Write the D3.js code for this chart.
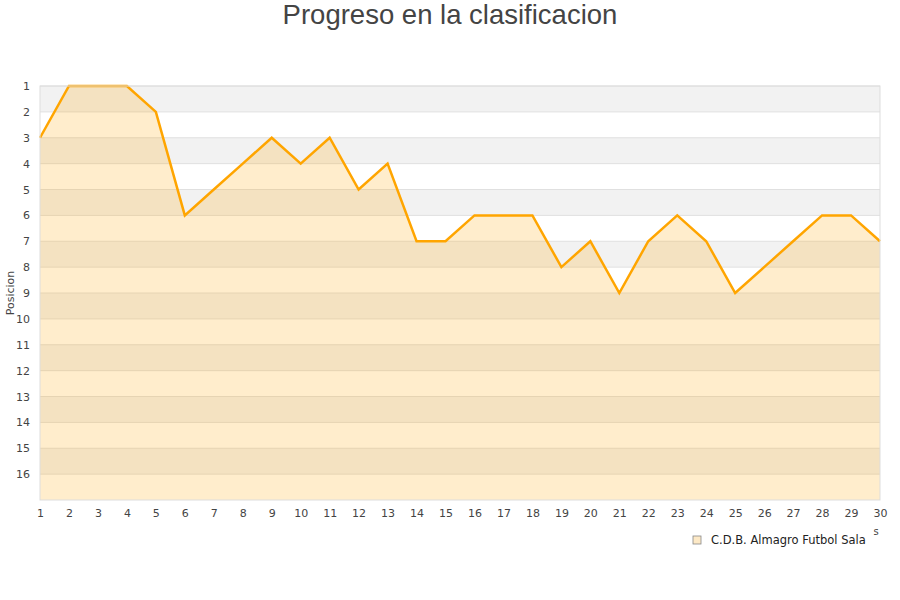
<!DOCTYPE html>
<html>
<head>
<meta charset="utf-8">
<script src="https://cdn.jsdelivr.net/npm/d3@7"></script>
<style>
  body { margin: 0; background: #fff; }
  svg { display: block; }
  .tick text { font-family: "DejaVu Sans", sans-serif; font-size: 11px; fill: #444; }
</style>
</head>
<body>
<div id="chart"></div>
<script>
// ── Data ──────────────────────────────────────────────────────────────────────
const jornadas  = d3.range(1, 31);
const posiciones = [3, 1, 1, 1, 2, 6, 5, 4, 3, 4, 3, 5, 4, 7, 7, 6, 6, 6, 8, 7, 9, 7, 6, 7, 9, 8, 7, 6, 6, 7];
const yTicks    = d3.range(1, 17);
const teamName  = "C.D.B. Almagro Futbol Sala";

// ── Layout ────────────────────────────────────────────────────────────────────
const W = 900, H = 600;
const margin = { top: 86, right: 20, bottom: 100, left: 40 };
const width  = W - margin.left - margin.right;
const height = H - margin.top - margin.bottom;

const svg = d3.select("#chart").append("svg").attr("width", W).attr("height", H);

svg.append("text")
  .attr("x", W / 2).attr("y", 24)
  .attr("text-anchor", "middle")
  .style("font-family", "Liberation Sans, Arial, sans-serif")
  .style("font-size", "27.5px")
  .style("fill", "#444")
  .text("Progreso en la clasificacion");

const g = svg.append("g").attr("transform", `translate(${margin.left},${margin.top})`);

const x = d3.scaleLinear().domain([1, 30]).range([0, width]);
const y = d3.scaleLinear().domain([1, 17]).range([0, height]);

// alternating bands
g.selectAll(".band").data(yTicks.filter(d => d % 2 === 1)).enter().append("rect")
  .attr("class", "band")
  .attr("x", 0).attr("width", width)
  .attr("y", d => y(d)).attr("height", d => y(d + 1) - y(d))
  .style("fill", "#f2f2f2");

// grid lines
g.selectAll(".grid").data(yTicks).enter().append("line")
  .attr("x1", 0).attr("x2", width)
  .attr("y1", d => y(d)).attr("y2", d => y(d))
  .style("stroke", "#e0e0e0").style("stroke-width", 1);

// area + line
const area = d3.area()
  .x((d, i) => x(jornadas[i]))
  .y0(y(17))
  .y1(d => y(d));
g.append("path").datum(posiciones)
  .attr("d", area)
  .style("fill", "#ffa500").style("fill-opacity", 0.2);

const line = d3.line().x((d, i) => x(jornadas[i])).y(d => y(d));
g.append("path").datum(posiciones)
  .attr("d", line)
  .style("fill", "none").style("stroke", "#ffa500").style("stroke-width", 2.5)
  .style("stroke-linejoin", "miter");

// frame
g.append("rect").attr("width", width).attr("height", height)
  .style("fill", "none").style("stroke", "#ddd");

// axes
const yAxis = g.append("g")
  .call(d3.axisLeft(y).tickValues(yTicks).tickSize(0).tickPadding(10));
yAxis.select(".domain").remove();

const xAxis = g.append("g").attr("transform", `translate(0,${height})`)
  .call(d3.axisBottom(x).tickValues(jornadas).tickSize(0).tickPadding(9));
xAxis.select(".domain").remove();

svg.append("text")
  .attr("transform", `translate(14,${margin.top + height / 2}) rotate(-90)`)
  .attr("text-anchor", "middle")
  .style("font-family", "DejaVu Sans, sans-serif")
  .style("font-size", "11px").style("fill", "#444")
  .text("Posicion");

// clipped x-axis title remnant
svg.append("text")
  .attr("x", 876).attr("y", 535).attr("text-anchor", "middle")
  .style("font-family", "DejaVu Sans, sans-serif")
  .style("font-size", "10px").style("fill", "#444")
  .text("s");

// legend
const legend = svg.append("g").attr("transform", "translate(693,536)");
legend.append("rect").attr("width", 8).attr("height", 8)
  .style("fill", "#fde9c6").style("stroke", "#888").style("stroke-width", 0.8);
legend.append("text").attr("x", 18).attr("y", 8)
  .style("font-family", "DejaVu Sans, sans-serif")
  .style("font-size", "11.5px").style("fill", "#222")
  .text(teamName);
</script>
</body>
</html>
